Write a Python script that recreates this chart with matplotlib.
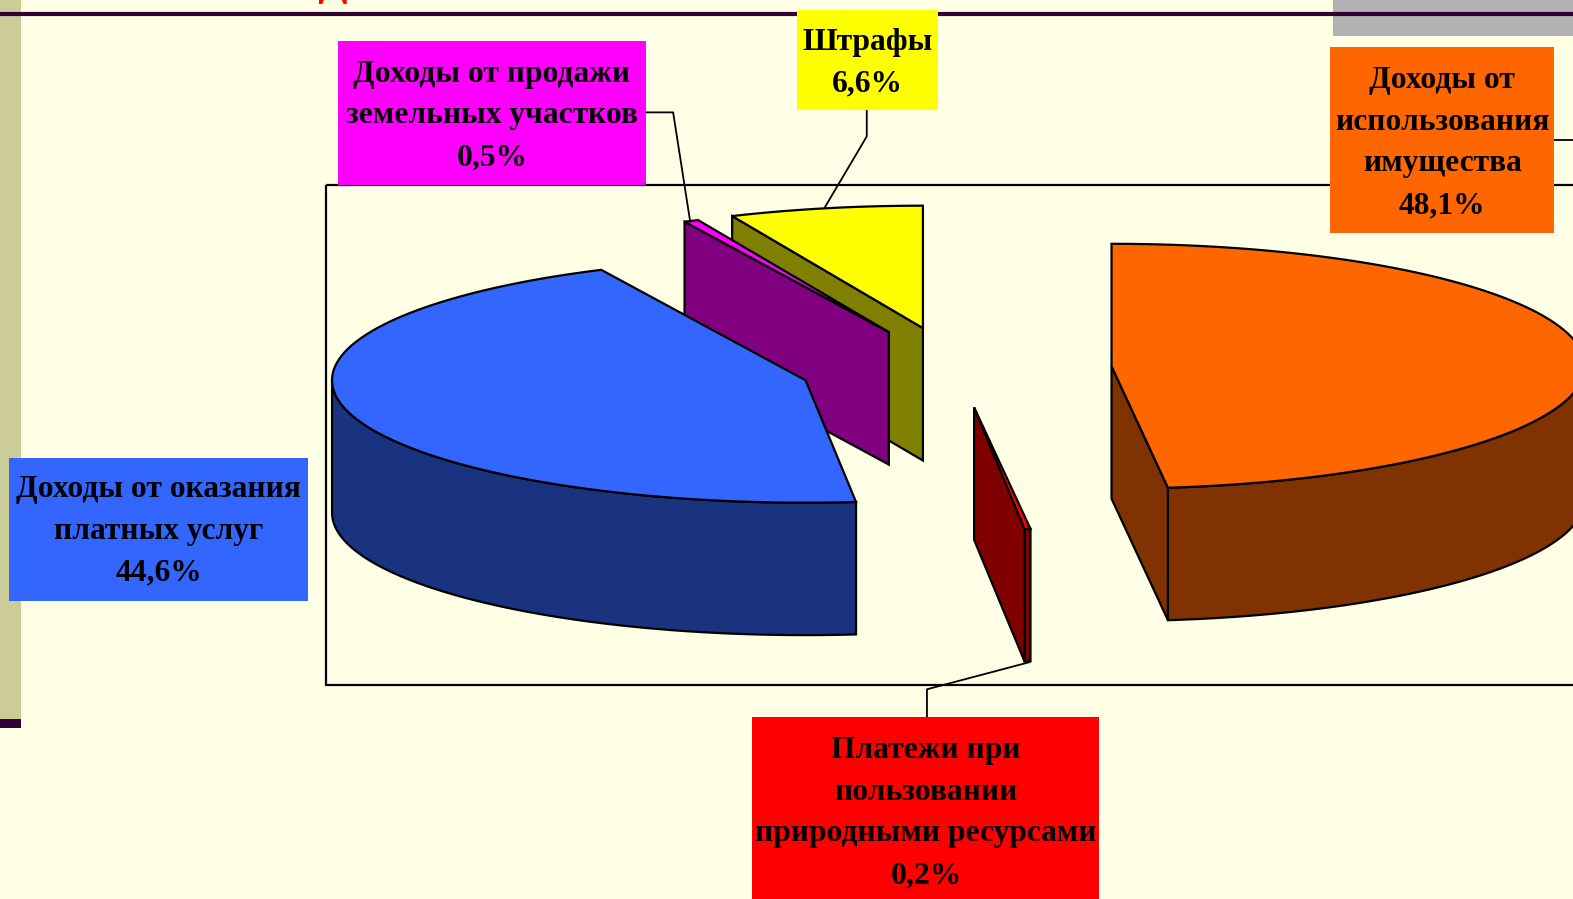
"""Круговая диаграмма 3D: структура неналоговых доходов (слайд)."""
import numpy as np
import matplotlib
matplotlib.use("Agg")
import matplotlib.pyplot as plt
from matplotlib.colors import to_rgb
from matplotlib.patches import Polygon, Rectangle

# по часовой стрелке от 12 часов
names = ["Доходы от\nиспользования\nимущества",
         "Платежи при\nпользовании\nприродными ресурсами",
         "Доходы от оказания\nплатных услуг",
         "Доходы от продажи\nземельных участков",
         "Штрафы"]
shares = [48.1, 0.2, 44.6, 0.5, 6.6]
colors = ["#FF6600", "#FF0000", "#3366FF", "#FF00FF", "#FFFF00"]
share_labels = ["48,1%", "0,2%", "44,6%", "0,5%", "6,6%"]

BG = "#FFFFE5"
RX, RY, DEPTH = 472, 122, 132
# центры секторов с учетом выноса, пиксели
centers = [(1108, 365), (971, 406), (803, 379), (886, 331), (920, 327)]
# боксы подписей: x0, y0, x1, y1 и y первой строки
boxes = [(1326, 47, 1549, 232, 80), (750, 715, 1096, 900, 748), (9, 456, 307, 599, 488),
         (337, 41, 644, 184, 74), (794, 10, 935, 110, 42)]
LINE_H = 41.6
LW = 1.6

fig = plt.figure(figsize=(15.73, 8.99), dpi=100, facecolor=BG)
ax = fig.add_axes([0, 0, 1, 1])
ax.set_xlim(0, 1568)
ax.set_ylim(896, 0)
ax.axis("off")

# оформление слайда
ax.add_patch(Rectangle((0, 0), 21, 717, fc="#CCCC99", ec="none", zorder=1))
ax.add_patch(Rectangle((0, 717), 21, 9, fc="#330033", ec="none", zorder=1))
ax.add_patch(Rectangle((1329, 0), 239, 36, fc="#B2B2B2", ec="none", zorder=1))
ax.plot([0, 1568], [14, 14], color="#330033", lw=3, zorder=2, solid_capstyle="butt")
ax.text(332, -6, "д", color="red", fontsize=42, family="Liberation Serif", weight="bold",
        ha="center", va="baseline", zorder=2)

# рамка области диаграммы
ax.add_patch(Rectangle((325, 184), 1300, 499, fc="none", ec="black", lw=LW, zorder=3))


def pt(c, deg):
    t = np.radians(deg)
    return c[0] + RX * np.sin(t), c[1] - RY * np.cos(t)


def arc(c, a, b):
    t = np.linspace(a, b, max(int(abs(b - a) * 2), 2))
    x, y = pt(c, t)
    return np.column_stack([x, y])


edges = np.concatenate([[0], np.cumsum(shares)]) * 3.6
draw_order = [4, 3, 2, 1, 0]

for n, i in enumerate(draw_order):
    a, b = edges[i], edges[i + 1]
    c = centers[i]
    dark = tuple(v * 0.5 for v in to_rgb(colors[i]))
    z = 5 + n
    kw = dict(fc=dark, ec="black", lw=LW, joinstyle="miter", zorder=z)
    # боковая дуга (только передняя половина)
    lo, hi = max(a, 90), min(b, 270)
    if lo < hi:
        top = arc(c, lo, hi)
        ax.add_patch(Polygon(np.vstack([top, top[::-1] + [0, DEPTH]]), **kw))
    # грани разреза
    for deg, vis in [(a, np.sin(np.radians(a)) < -1e-6), (b, np.sin(np.radians(b)) > 1e-6)]:
        if vis:
            p = pt(c, deg)
            ax.add_patch(Polygon([c, p, (p[0], p[1] + DEPTH), (c[0], c[1] + DEPTH)], **kw))
    # верхняя грань
    ax.add_patch(Polygon(np.vstack([[c], arc(c, a, b)]), fc=colors[i], ec="black", lw=LW,
                         joinstyle="miter", zorder=z))

# выноски
leaders = [([1549, 1568], [140, 140]),
           ([924, 924, 1026], [715, 687, 660]),
           ([644, 671, 688], [112, 112, 221]),
           ([864, 864, 822], [110, 136, 207])]
for xs, ys in leaders:
    ax.plot(xs, ys, color="black", lw=1.3, zorder=12)

# подписи
for name, share, col, box in zip(names, share_labels, colors, boxes):
    x0, y0, x1, y1, ty = box
    ax.add_patch(Rectangle((x0, y0), x1 - x0, y1 - y0, fc=col, ec="none", zorder=13))
    for k, line in enumerate(name.split("\n") + [share]):
        ax.text((x0 + x1) / 2, ty + k * LINE_H, line, ha="center", va="center",
                family="Liberation Serif", weight="bold", fontsize=22.7, color="black", zorder=14)

fig.savefig("out.png", dpi=100, facecolor=BG)
